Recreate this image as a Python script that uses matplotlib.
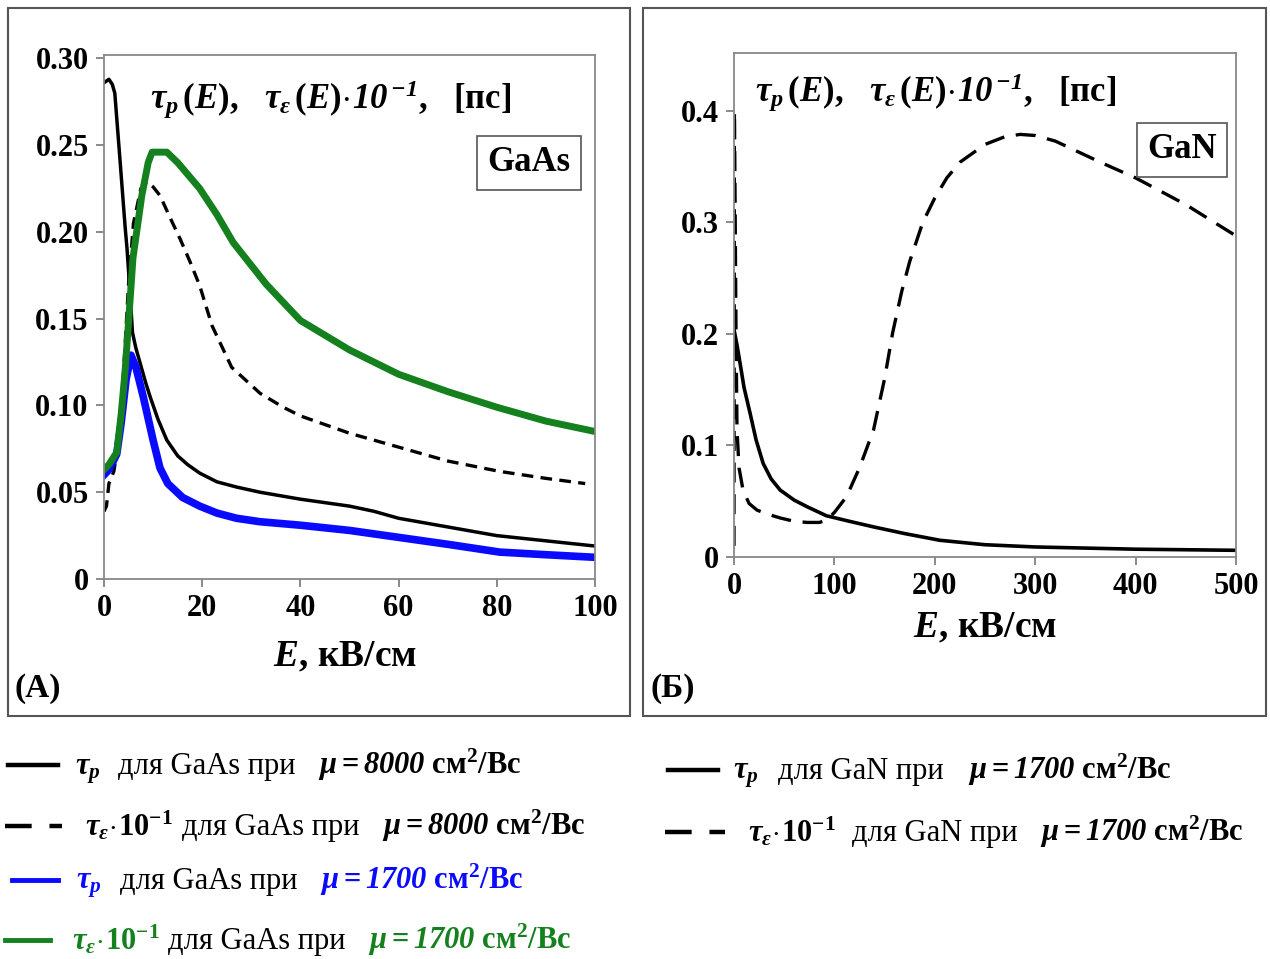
import matplotlib
matplotlib.use("Agg")
import matplotlib.pyplot as plt
from matplotlib.patches import Rectangle
from matplotlib.lines import Line2D

plt.rcParams['font.family'] = ['Liberation Serif', 'DejaVu Serif']
plt.rcParams['mathtext.fontset'] = 'custom'
plt.rcParams['mathtext.rm'] = 'Liberation Serif:bold'
plt.rcParams['mathtext.it'] = 'Liberation Serif:italic:bold'
plt.rcParams['mathtext.bf'] = 'Liberation Serif:bold'
plt.rcParams['mathtext.sf'] = 'Liberation Serif:italic:bold'

# ---------------- data: GaAs (panel A) ----------------
E_gaas_tp8000 = [0, 1, 1.7, 2.2, 3.3, 4.3, 4.7, 5.3, 5.8, 6.5, 7.5, 8.5, 9.4, 11, 12.8, 15, 17, 19.5,
                 23, 27, 31.8, 40, 45, 50, 55, 60, 70, 80, 90, 100]
tp_gaas_8000 = [0.286, 0.288, 0.285, 0.280, 0.240, 0.203, 0.190, 0.165, 0.142, 0.133, 0.123, 0.113, 0.105,
                0.092, 0.080, 0.071, 0.066, 0.061, 0.056, 0.053, 0.050, 0.046, 0.044, 0.042, 0.039,
                0.035, 0.030, 0.025, 0.022, 0.019]

E_gaas_te8000 = [0, 0.5, 1, 2, 3, 4, 5, 6, 7.5, 8.8, 10, 11.4, 13.5, 15.5, 17.5, 19.5, 22, 26, 31.8,
                 36.5, 40, 50, 60, 70, 80.6, 90, 98]
te_gaas_8000 = [0.039, 0.042, 0.055, 0.062, 0.080, 0.120, 0.170, 0.205, 0.225, 0.229, 0.226, 0.221, 0.208,
                0.196, 0.183, 0.169, 0.146, 0.122, 0.107, 0.099, 0.094, 0.084, 0.076, 0.068, 0.062,
                0.058, 0.055]

E_gaas_tp1700 = [0, 1, 2.6, 3.5, 4.5, 5.5, 6.5, 8, 10, 11.4, 13, 16, 19.5, 23, 27, 31.8, 40, 50, 60, 70,
                 80.6, 90, 100]
tp_gaas_1700 = [0.060, 0.063, 0.072, 0.090, 0.115, 0.129, 0.122, 0.105, 0.080, 0.064, 0.055, 0.047, 0.042,
                0.038, 0.035, 0.033, 0.031, 0.028, 0.024, 0.020, 0.0155, 0.014, 0.0125]

E_gaas_te1700 = [0, 1, 2.6, 3.5, 4.3, 4.9, 5.9, 7.7, 9, 9.8, 12.8, 15, 19.5, 23, 26.3, 33, 40, 50, 60, 70,
                 80, 90, 100]
te_gaas_1700 = [0.063, 0.066, 0.073, 0.095, 0.120, 0.144, 0.185, 0.221, 0.240, 0.246, 0.246, 0.240, 0.225,
                0.210, 0.194, 0.170, 0.149, 0.132, 0.118, 0.108, 0.099, 0.091, 0.085]

# ---------------- data: GaN (panel B) ----------------
E_gan_tp = [0, 3, 6, 10, 16, 22, 29, 37, 46, 60, 73, 92, 115, 139, 170, 205, 250, 300, 350, 400, 450, 500]
tp_gan = [0.204, 0.190, 0.174, 0.152, 0.129, 0.105, 0.084, 0.070, 0.060, 0.051, 0.045, 0.037, 0.032,
          0.027, 0.021, 0.015, 0.011, 0.009, 0.008, 0.007, 0.0065, 0.006]

E_gan_te = [0, 0.4, 1, 2, 3, 5, 9, 15, 23, 35, 46, 60, 73, 85, 92, 100, 112, 125, 139, 150, 158, 167,
            175, 188, 200, 212, 225, 250, 270, 285, 300, 320, 365, 400, 450, 500]
te_gan = [0.010, 0.400, 0.330, 0.200, 0.114, 0.080, 0.060, 0.048, 0.042, 0.038, 0.035, 0.032, 0.031,
          0.031, 0.033, 0.040, 0.054, 0.080, 0.114, 0.160, 0.201, 0.238, 0.265, 0.300, 0.322, 0.340,
          0.354, 0.370, 0.377, 0.379, 0.378, 0.373, 0.354, 0.340, 0.316, 0.288]

gaas_yticks = [0, 0.05, 0.10, 0.15, 0.20, 0.25, 0.30]
gaas_ylabels = ['0', '0.05', '0.10', '0.15', '0.20', '0.25', '0.30']
gaas_xticks = [0, 20, 40, 60, 80, 100]
gan_yticks = [0, 0.1, 0.2, 0.3, 0.4]
gan_ylabels = ['0', '0.1', '0.2', '0.3', '0.4']
gan_xticks = [0, 100, 200, 300, 400, 500]

W, H = 1270, 959
fig = plt.figure(figsize=(W / 100, H / 100), dpi=100)


def fx(x):
    return x / W


def fy(y):
    return 1 - y / H


def axes_px(x0, y0, x1, y1):
    return fig.add_axes([fx(x0), fy(y1), (x1 - x0) / W, (y1 - y0) / H])


# panel frames
for (x0, y0, x1, y1) in [(8, 8, 630, 716), (643, 8, 1266, 716)]:
    fig.patches.append(Rectangle((fx(x0), fy(y1)), (x1 - x0) / W, (y1 - y0) / H,
                                 transform=fig.transFigure, fill=False,
                                 edgecolor='#555555', linewidth=1.5))

title_math = (r"$\tau_p\,(E)$,   $\tau_\varepsilon\,(E)\!\cdot\!\mathsf{10}^{\,\mathsf{-1}}$,   [пс]")


def style_axes(ax):
    for s in ax.spines.values():
        s.set_color('#888888')
        s.set_linewidth(1.3)
    ax.tick_params(direction='out', length=6, width=1.2, color='#777777',
                   labelsize=22, pad=5)
    for lab in ax.get_xticklabels() + ax.get_yticklabels():
        lab.set_fontweight('bold')


# ---------- Panel A ----------
axA = axes_px(104, 55, 595, 579)
axA.plot(E_gaas_tp8000, tp_gaas_8000, color='black', lw=2.5)
axA.plot(E_gaas_te8000, te_gaas_8000, color='black', lw=2.4, dashes=(3.5, 2.2))
axA.plot(E_gaas_tp1700, tp_gaas_1700, color='#0a0aff', lw=5.5)
axA.plot(E_gaas_te1700, te_gaas_1700, color='#14801e', lw=5)
axA.set_xlim(0, 100)
axA.set_ylim(0, 0.302)
axA.set_xticks(gaas_xticks)
axA.set_yticks(gaas_yticks)
axA.set_yticklabels(gaas_ylabels)
style_axes(axA)
axA.text(0.093, 0.914, title_math, transform=axA.transAxes, fontsize=25,
         fontweight='bold', va='center', ha='left')
axA.text(0.866, 0.794, 'GaAs', transform=axA.transAxes, fontsize=25,
         fontweight='bold', ha='center', va='center',
         bbox=dict(boxstyle='square,pad=0.3', fc='white', ec='#555555', lw=1.2))
fig.text(fx(345), fy(657), r"$E$, кВ/см", fontsize=27, fontweight='bold',
         ha='center', va='center')
fig.text(fx(15), fy(688), '(А)', fontsize=24, fontweight='bold', ha='left', va='center')

# ---------- Panel B ----------
axB = axes_px(734, 53, 1236, 557)
axB.plot(E_gan_tp, tp_gan, color='black', lw=2.6)
axB.plot(E_gan_te, te_gan, color='black', lw=2.4, dashes=(6, 3.5))
axB.set_xlim(0, 500)
axB.set_ylim(0, 0.452)
axB.set_xticks(gan_xticks)
axB.set_yticks(gan_yticks)
axB.set_yticklabels(gan_ylabels)
style_axes(axB)
axB.text(0.042, 0.921, title_math, transform=axB.transAxes, fontsize=25,
         fontweight='bold', va='center', ha='left')
axB.text(0.892, 0.808, 'GaN', transform=axB.transAxes, fontsize=25,
         fontweight='bold', ha='center', va='center',
         bbox=dict(boxstyle='square,pad=0.3', fc='white', ec='#555555', lw=1.2))
fig.text(fx(985), fy(628), r"$E$, кВ/см", fontsize=27, fontweight='bold',
         ha='center', va='center')
fig.text(fx(651), fy(688), '(Б)', fontsize=24, fontweight='bold', ha='left', va='center')

# ---------- legends ----------
tp_sym = r"$\tau_p$"
te_sym = r"$\tau_\varepsilon\!\cdot\!\mathbf{10}^{\mathbf{-1}}$"


def mu_txt(val):
    return r"$\mu=\mathsf{" + val + r"}$ $\mathbf{см^2/Вс}$"


legend_rows = [
    # (line x0, x1, y, color, dashed, symbol, sym_x, mid text, mid_x, mu, mu_x)
    (8, 58, 765, 'black', False, tp_sym, 75, 'для GaAs при', 118, '8000', 318),
    (5, 62, 826, 'black', True, te_sym, 85, 'для GaAs при', 182, '8000', 382),
    (12, 58, 880, '#0a0aff', False, tp_sym, 76, 'для GaAs при', 120, '1700', 320),
    (5, 50, 940, '#14801e', False, te_sym, 72, 'для GaAs при', 168, '1700', 368),
    (668, 718, 770, 'black', False, tp_sym, 733, 'для GaN при', 778, '1700', 968),
    (665, 725, 832, 'black', True, te_sym, 748, 'для GaN при', 852, '1700', 1040),
]
for (x0, x1, y, col, dashed, sym, sx, mid, mx, mu, ux) in legend_rows:
    ln = Line2D([fx(x0), fx(x1)], [fy(y), fy(y)], transform=fig.transFigure,
                color=col, lw=3.5 if col != 'black' else 3.2,
                dashes=(6, 4) if dashed else (None, None))
    fig.lines.append(ln)
    base = fy(y + 9)
    fig.text(fx(sx), base, sym, fontsize=22, color=col, ha='left', va='baseline')
    fig.text(fx(mx), base, mid, fontsize=22, color='black', ha='left', va='baseline')
    fig.text(fx(ux), base, mu_txt(mu), fontsize=22, color=col, ha='left', va='baseline')

fig.savefig('out.png', dpi=100, facecolor='white')
